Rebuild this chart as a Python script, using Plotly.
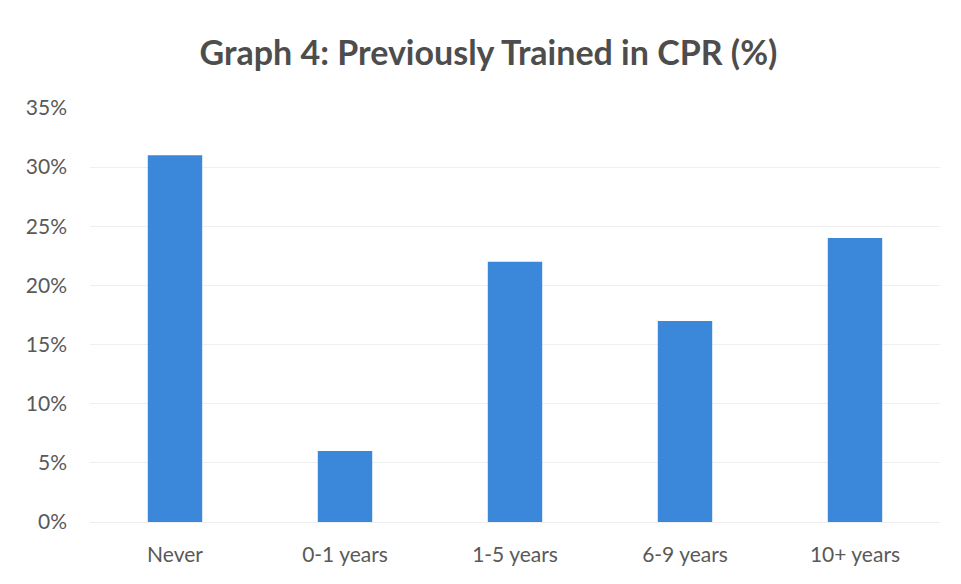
import plotly.graph_objects as go

categories = ["Never", "0-1 years", "1-5 years", "6-9 years", "10+ years"]
values = [31, 6, 22, 17, 24]
y_ticks = [0, 5, 10, 15, 20, 25, 30, 35]
y_tick_labels = ["0%", "5%", "10%", "15%", "20%", "25%", "30%", "35%"]

fig = go.Figure(go.Bar(x=categories, y=values, marker=dict(color="#3b87d9", line=dict(width=0))))

fig.update_layout(
    width=961, height=584,
    margin=dict(l=82, r=29, t=100, b=70),
    paper_bgcolor="white", plot_bgcolor="white",
    bargap=0.68,
    showlegend=False,
    title=dict(text="<b>Graph 4: Previously Trained in CPR (%)</b>", x=0.5, xanchor="center",
               y=0.922, yanchor="middle",
               font=dict(family="Lato", size=34, color="#4d4d4d")),
    font=dict(family="Lato", color="#595959"),
)
fig.update_yaxes(range=[0, 35], tickvals=y_ticks, ticktext=y_tick_labels,
                 showgrid=True, gridcolor="#efefef", gridwidth=1, zeroline=False,
                 showline=False, ticks="", ticklabelstandoff=22,
                 tickfont=dict(family="Lato", size=21, color="#595959"))
fig.update_xaxes(showgrid=False, showline=True, linecolor="#eeeeee", ticks="",
                 ticklabelstandoff=14,
                 tickfont=dict(family="Lato", size=21, color="#595959"))

fig.write_html("out.html")
